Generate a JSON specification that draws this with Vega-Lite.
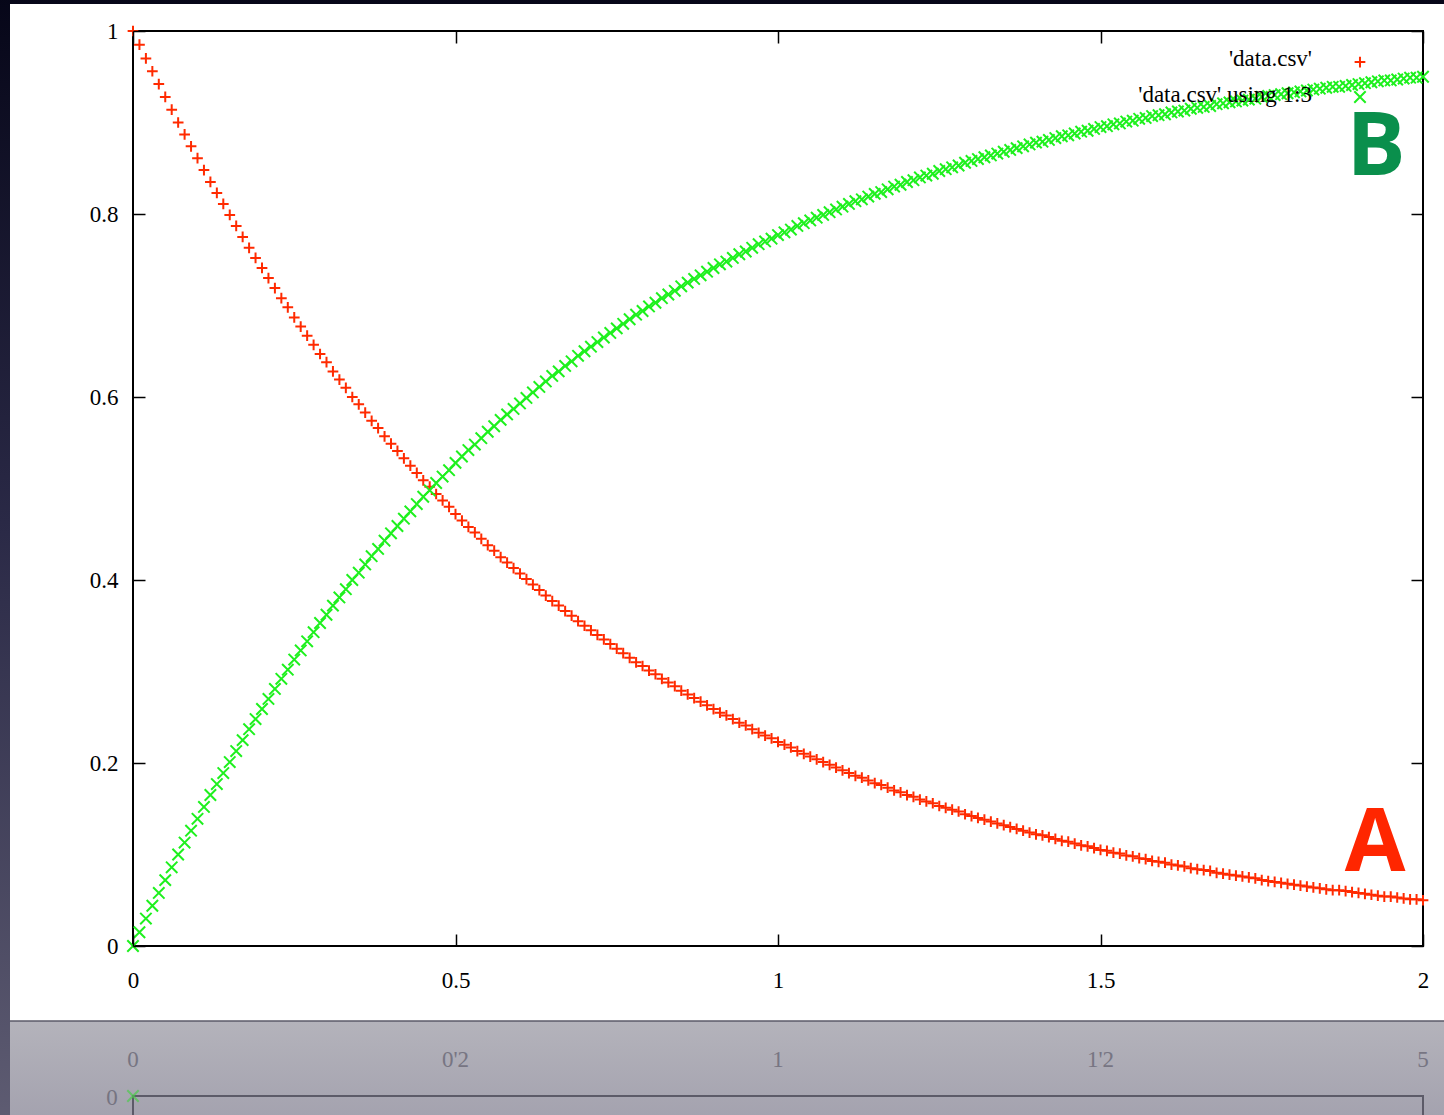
{
  "$schema": "https://vega.github.io/schema/vega-lite/v6.json",
  "width": 1290,
  "height": 915,
  "autosize": "none",
  "padding": {"left": 133, "top": 31, "right": 21, "bottom": 169},
  "background": "#0b0b1e",
  "config": {
    "view": {"stroke": null},
    "axis": {
      "domain": false,
      "grid": false,
      "ticks": true,
      "tickColor": "#000000",
      "tickWidth": 1.5,
      "tickSize": -12,
      "labelFont": "Liberation Serif",
      "labelFontSize": 23,
      "labelColor": "#000000",
      "labelFlush": false,
      "labelOverlap": false
    }
  },
  "datasets": {
    "series": [
      {"x":0,"a":1,"b":0},{"x":0.01,"a":0.985,"b":0.015},{"x":0.02,"a":0.97,"b":0.03},{"x":0.03,"a":0.956,"b":0.044},{"x":0.04,"a":0.942,"b":0.058},{"x":0.05,"a":0.928,"b":0.072},{"x":0.06,"a":0.914,"b":0.086},{"x":0.07,"a":0.9,"b":0.1},{"x":0.08,"a":0.887,"b":0.113},{"x":0.09,"a":0.874,"b":0.126},
      {"x":0.1,"a":0.861,"b":0.139},{"x":0.11,"a":0.848,"b":0.152},{"x":0.12,"a":0.835,"b":0.165},{"x":0.13,"a":0.823,"b":0.177},{"x":0.14,"a":0.811,"b":0.189},{"x":0.15,"a":0.799,"b":0.201},{"x":0.16,"a":0.787,"b":0.213},{"x":0.17,"a":0.775,"b":0.225},{"x":0.18,"a":0.763,"b":0.237},{"x":0.19,"a":0.752,"b":0.248},
      {"x":0.2,"a":0.741,"b":0.259},{"x":0.21,"a":0.73,"b":0.27},{"x":0.22,"a":0.719,"b":0.281},{"x":0.23,"a":0.708,"b":0.292},{"x":0.24,"a":0.698,"b":0.302},{"x":0.25,"a":0.687,"b":0.313},{"x":0.26,"a":0.677,"b":0.323},{"x":0.27,"a":0.667,"b":0.333},{"x":0.28,"a":0.657,"b":0.343},{"x":0.29,"a":0.647,"b":0.353},
      {"x":0.3,"a":0.638,"b":0.362},{"x":0.31,"a":0.628,"b":0.372},{"x":0.32,"a":0.619,"b":0.381},{"x":0.33,"a":0.61,"b":0.39},{"x":0.34,"a":0.6,"b":0.4},{"x":0.35,"a":0.592,"b":0.408},{"x":0.36,"a":0.583,"b":0.417},{"x":0.37,"a":0.574,"b":0.426},{"x":0.38,"a":0.566,"b":0.434},{"x":0.39,"a":0.557,"b":0.443},
      {"x":0.4,"a":0.549,"b":0.451},{"x":0.41,"a":0.541,"b":0.459},{"x":0.42,"a":0.533,"b":0.467},{"x":0.43,"a":0.525,"b":0.475},{"x":0.44,"a":0.517,"b":0.483},{"x":0.45,"a":0.509,"b":0.491},{"x":0.46,"a":0.502,"b":0.498},{"x":0.47,"a":0.494,"b":0.506},{"x":0.48,"a":0.487,"b":0.513},{"x":0.49,"a":0.48,"b":0.52},
      {"x":0.5,"a":0.472,"b":0.528},{"x":0.51,"a":0.465,"b":0.535},{"x":0.52,"a":0.458,"b":0.542},{"x":0.53,"a":0.452,"b":0.548},{"x":0.54,"a":0.445,"b":0.555},{"x":0.55,"a":0.438,"b":0.562},{"x":0.56,"a":0.432,"b":0.568},{"x":0.57,"a":0.425,"b":0.575},{"x":0.58,"a":0.419,"b":0.581},{"x":0.59,"a":0.413,"b":0.587},
      {"x":0.6,"a":0.407,"b":0.593},{"x":0.61,"a":0.401,"b":0.599},{"x":0.62,"a":0.395,"b":0.605},{"x":0.63,"a":0.389,"b":0.611},{"x":0.64,"a":0.383,"b":0.617},{"x":0.65,"a":0.377,"b":0.623},{"x":0.66,"a":0.372,"b":0.628},{"x":0.67,"a":0.366,"b":0.634},{"x":0.68,"a":0.361,"b":0.639},{"x":0.69,"a":0.355,"b":0.645},
      {"x":0.7,"a":0.35,"b":0.65},{"x":0.71,"a":0.345,"b":0.655},{"x":0.72,"a":0.34,"b":0.66},{"x":0.73,"a":0.335,"b":0.665},{"x":0.74,"a":0.33,"b":0.67},{"x":0.75,"a":0.325,"b":0.675},{"x":0.76,"a":0.32,"b":0.68},{"x":0.77,"a":0.315,"b":0.685},{"x":0.78,"a":0.31,"b":0.69},{"x":0.79,"a":0.306,"b":0.694},
      {"x":0.8,"a":0.301,"b":0.699},{"x":0.81,"a":0.297,"b":0.703},{"x":0.82,"a":0.292,"b":0.708},{"x":0.83,"a":0.288,"b":0.712},{"x":0.84,"a":0.284,"b":0.716},{"x":0.85,"a":0.279,"b":0.721},{"x":0.86,"a":0.275,"b":0.725},{"x":0.87,"a":0.271,"b":0.729},{"x":0.88,"a":0.267,"b":0.733},{"x":0.89,"a":0.263,"b":0.737},
      {"x":0.9,"a":0.259,"b":0.741},{"x":0.91,"a":0.255,"b":0.745},{"x":0.92,"a":0.252,"b":0.748},{"x":0.93,"a":0.248,"b":0.752},{"x":0.94,"a":0.244,"b":0.756},{"x":0.95,"a":0.241,"b":0.759},{"x":0.96,"a":0.237,"b":0.763},{"x":0.97,"a":0.233,"b":0.767},{"x":0.98,"a":0.23,"b":0.77},{"x":0.99,"a":0.227,"b":0.773},
      {"x":1,"a":0.223,"b":0.777},{"x":1.01,"a":0.22,"b":0.78},{"x":1.02,"a":0.217,"b":0.783},{"x":1.03,"a":0.213,"b":0.787},{"x":1.04,"a":0.21,"b":0.79},{"x":1.05,"a":0.207,"b":0.793},{"x":1.06,"a":0.204,"b":0.796},{"x":1.07,"a":0.201,"b":0.799},{"x":1.08,"a":0.198,"b":0.802},{"x":1.09,"a":0.195,"b":0.805},
      {"x":1.1,"a":0.192,"b":0.808},{"x":1.11,"a":0.189,"b":0.811},{"x":1.12,"a":0.186,"b":0.814},{"x":1.13,"a":0.184,"b":0.816},{"x":1.14,"a":0.181,"b":0.819},{"x":1.15,"a":0.178,"b":0.822},{"x":1.16,"a":0.176,"b":0.824},{"x":1.17,"a":0.173,"b":0.827},{"x":1.18,"a":0.17,"b":0.83},{"x":1.19,"a":0.168,"b":0.832},
      {"x":1.2,"a":0.165,"b":0.835},{"x":1.21,"a":0.163,"b":0.837},{"x":1.22,"a":0.16,"b":0.84},{"x":1.23,"a":0.158,"b":0.842},{"x":1.24,"a":0.156,"b":0.844},{"x":1.25,"a":0.153,"b":0.847},{"x":1.26,"a":0.151,"b":0.849},{"x":1.27,"a":0.149,"b":0.851},{"x":1.28,"a":0.147,"b":0.853},{"x":1.29,"a":0.144,"b":0.856},
      {"x":1.3,"a":0.142,"b":0.858},{"x":1.31,"a":0.14,"b":0.86},{"x":1.32,"a":0.138,"b":0.862},{"x":1.33,"a":0.136,"b":0.864},{"x":1.34,"a":0.134,"b":0.866},{"x":1.35,"a":0.132,"b":0.868},{"x":1.36,"a":0.13,"b":0.87},{"x":1.37,"a":0.128,"b":0.872},{"x":1.38,"a":0.126,"b":0.874},{"x":1.39,"a":0.124,"b":0.876},
      {"x":1.4,"a":0.122,"b":0.878},{"x":1.41,"a":0.121,"b":0.879},{"x":1.42,"a":0.119,"b":0.881},{"x":1.43,"a":0.117,"b":0.883},{"x":1.44,"a":0.115,"b":0.885},{"x":1.45,"a":0.114,"b":0.886},{"x":1.46,"a":0.112,"b":0.888},{"x":1.47,"a":0.11,"b":0.89},{"x":1.48,"a":0.109,"b":0.891},{"x":1.49,"a":0.107,"b":0.893},
      {"x":1.5,"a":0.105,"b":0.895},{"x":1.51,"a":0.104,"b":0.896},{"x":1.52,"a":0.102,"b":0.898},{"x":1.53,"a":0.101,"b":0.899},{"x":1.54,"a":0.099,"b":0.901},{"x":1.55,"a":0.098,"b":0.902},{"x":1.56,"a":0.096,"b":0.904},{"x":1.57,"a":0.095,"b":0.905},{"x":1.58,"a":0.093,"b":0.907},{"x":1.59,"a":0.092,"b":0.908},
      {"x":1.6,"a":0.091,"b":0.909},{"x":1.61,"a":0.089,"b":0.911},{"x":1.62,"a":0.088,"b":0.912},{"x":1.63,"a":0.087,"b":0.913},{"x":1.64,"a":0.085,"b":0.915},{"x":1.65,"a":0.084,"b":0.916},{"x":1.66,"a":0.083,"b":0.917},{"x":1.67,"a":0.082,"b":0.918},{"x":1.68,"a":0.08,"b":0.92},{"x":1.69,"a":0.079,"b":0.921},
      {"x":1.7,"a":0.078,"b":0.922},{"x":1.71,"a":0.077,"b":0.923},{"x":1.72,"a":0.076,"b":0.924},{"x":1.73,"a":0.075,"b":0.925},{"x":1.74,"a":0.074,"b":0.926},{"x":1.75,"a":0.072,"b":0.928},{"x":1.76,"a":0.071,"b":0.929},{"x":1.77,"a":0.07,"b":0.93},{"x":1.78,"a":0.069,"b":0.931},{"x":1.79,"a":0.068,"b":0.932},
      {"x":1.8,"a":0.067,"b":0.933},{"x":1.81,"a":0.066,"b":0.934},{"x":1.82,"a":0.065,"b":0.935},{"x":1.83,"a":0.064,"b":0.936},{"x":1.84,"a":0.063,"b":0.937},{"x":1.85,"a":0.062,"b":0.938},{"x":1.86,"a":0.061,"b":0.939},{"x":1.87,"a":0.061,"b":0.939},{"x":1.88,"a":0.06,"b":0.94},{"x":1.89,"a":0.059,"b":0.941},
      {"x":1.9,"a":0.058,"b":0.942},{"x":1.91,"a":0.057,"b":0.943},{"x":1.92,"a":0.056,"b":0.944},{"x":1.93,"a":0.055,"b":0.945},{"x":1.94,"a":0.054,"b":0.946},{"x":1.95,"a":0.054,"b":0.946},{"x":1.96,"a":0.053,"b":0.947},{"x":1.97,"a":0.052,"b":0.948},{"x":1.98,"a":0.051,"b":0.949},{"x":1.99,"a":0.051,"b":0.949},
      {"x":2,"a":0.05,"b":0.95}
    ],
    "mirror": [
      {"x":0,"t":"0"},{"x":0.5,"t":"0'2"},{"x":1,"t":"1"},{"x":1.5,"t":"1'2"},{"x":2,"t":"5"}
    ]
  },
  "resolve": {"axis": {"x": "independent", "y": "independent"}},
  "layer": [
    {
      "description": "dark backdrop behind the slide",
      "data": {"values": [{}]},
      "mark": {"type": "rect", "color": {"gradient": "linear", "x1": 0, "y1": 0, "x2": 0, "y2": 1,
        "stops": [{"offset": 0.1, "color": "#060618"}, {"offset": 0.46, "color": "#2a2946"}, {"offset": 0.87, "color": "#5e5c72"}]}},
      "encoding": {
        "x": {"datum": -0.4, "type": "quantitative", "scale": {"domain": [0, 2], "nice": false, "zero": false}, "axis": null},
        "x2": {"datum": 2.2},
        "y": {"datum": 1.2, "type": "quantitative", "scale": {"domain": [0, 1], "nice": false}, "axis": null},
        "y2": {"datum": -0.4}
      }
    },
    {
      "description": "white slide",
      "data": {"values": [{}]},
      "mark": {"type": "rect", "color": "#ffffff"},
      "encoding": {
        "x": {"datum": -0.1907, "type": "quantitative", "scale": {"domain": [0, 2], "nice": false, "zero": false}, "axis": null},
        "x2": {"datum": 2.2},
        "y": {"datum": 1.0295, "type": "quantitative", "scale": {"domain": [0, 1], "nice": false}, "axis": null},
        "y2": {"datum": -0.082}
      }
    },
    {
      "description": "reflection floor",
      "data": {"values": [{}]},
      "mark": {"type": "rect", "color": {"gradient": "linear", "x1": 0, "y1": 0, "x2": 0, "y2": 1,
        "stops": [{"offset": 0, "color": "#b4b3bb"}, {"offset": 0.33, "color": "#9f9dab"}, {"offset": 1, "color": "#8a8898"}]}},
      "encoding": {
        "x": {"datum": -0.1907, "type": "quantitative", "scale": {"domain": [0, 2], "nice": false, "zero": false}, "axis": null},
        "x2": {"datum": 2.2},
        "y": {"datum": -0.082, "type": "quantitative", "scale": {"domain": [0, 1], "nice": false}, "axis": null},
        "y2": {"datum": -0.5}
      }
    },
    {
      "data": {"values": [{}]},
      "mark": {"type": "rule", "color": "#5b5a68", "strokeWidth": 1.5},
      "encoding": {
        "x": {"datum": -0.1907, "type": "quantitative", "scale": {"domain": [0, 2], "nice": false, "zero": false}, "axis": null},
        "x2": {"datum": 2.2},
        "y": {"datum": -0.082, "type": "quantitative", "scale": {"domain": [0, 1], "nice": false}, "axis": null}
      }
    },
    {
      "description": "mirrored frame in the floor",
      "data": {"values": [{}]},
      "mark": {"type": "rect", "fillOpacity": 0, "stroke": "#4f4e5c", "strokeWidth": 2, "strokeOpacity": 0.85},
      "encoding": {
        "x": {"datum": 0, "type": "quantitative", "scale": {"domain": [0, 2], "nice": false, "zero": false}, "axis": null},
        "x2": {"datum": 2},
        "y": {"datum": -0.1639, "type": "quantitative", "scale": {"domain": [0, 1], "nice": false}, "axis": null},
        "y2": {"datum": -0.6}
      }
    },
    {
      "data": {"name": "mirror"},
      "mark": {"type": "text", "font": "Liberation Serif", "fontSize": 23, "color": "#6a6876", "opacity": 0.8, "baseline": "middle", "align": "center"},
      "encoding": {
        "x": {"field": "x", "type": "quantitative", "scale": {"domain": [0, 2], "nice": false, "zero": false}, "axis": null},
        "y": {"datum": -0.1246, "type": "quantitative", "scale": {"domain": [0, 1], "nice": false}, "axis": null},
        "text": {"field": "t"}
      }
    },
    {
      "data": {"values": [{}]},
      "mark": {"type": "text", "text": "0", "font": "Liberation Serif", "fontSize": 23, "color": "#6a6876", "opacity": 0.8, "baseline": "middle", "align": "center"},
      "encoding": {
        "x": {"datum": -0.0326, "type": "quantitative", "scale": {"domain": [0, 2], "nice": false, "zero": false}, "axis": null},
        "y": {"datum": -0.166, "type": "quantitative", "scale": {"domain": [0, 1], "nice": false}, "axis": null}
      }
    },
    {
      "data": {"values": [{}]},
      "mark": {"type": "point", "shape": "M-1,-1L1,1M-1,1L1,-1", "filled": false, "size": 130, "strokeWidth": 2, "color": "#4ccc4c", "opacity": 0.7},
      "encoding": {
        "x": {"datum": 0, "type": "quantitative", "scale": {"domain": [0, 2], "nice": false, "zero": false}, "axis": null},
        "y": {"datum": -0.1639, "type": "quantitative", "scale": {"domain": [0, 1], "nice": false}, "axis": null}
      }
    },
    {
      "description": "plot frame",
      "data": {"values": [{}]},
      "mark": {"type": "rect", "fillOpacity": 0, "stroke": "#000000", "strokeWidth": 2},
      "encoding": {
        "x": {"datum": 0, "type": "quantitative", "scale": {"domain": [0, 2], "nice": false, "zero": false}, "axis": null},
        "x2": {"datum": 2},
        "y": {"datum": 0, "type": "quantitative", "scale": {"domain": [0, 1], "nice": false}, "axis": null},
        "y2": {"datum": 1}
      }
    },
    {
      "description": "column 2 of data.csv, plus markers",
      "data": {"name": "series"},
      "mark": {"type": "point", "shape": "M-1,0L1,0M0,-1L0,1", "filled": false, "size": 115, "strokeWidth": 2, "color": "#ff2a00", "opacity": 1},
      "encoding": {
        "x": {"field": "x", "type": "quantitative", "scale": {"domain": [0, 2], "nice": false, "zero": false},
          "axis": {"orient": "bottom", "zindex": 2, "values": [0, 0.5, 1, 1.5, 2], "format": "~g", "labelPadding": 35, "labelBaseline": "top", "title": null}},
        "y": {"field": "a", "type": "quantitative", "scale": {"domain": [0, 1], "nice": false},
          "axis": {"orient": "left", "zindex": 2, "values": [0, 0.2, 0.4, 0.6, 0.8, 1], "format": "~g", "labelPadding": 27, "title": null}}
      }
    },
    {
      "description": "column 3 of data.csv, cross markers",
      "data": {"name": "series"},
      "mark": {"type": "point", "shape": "M-1,-1L1,1M-1,1L1,-1", "filled": false, "size": 130, "strokeWidth": 2, "color": "#1ef01e", "opacity": 1},
      "encoding": {
        "x": {"field": "x", "type": "quantitative", "scale": {"domain": [0, 2], "nice": false, "zero": false},
          "axis": {"orient": "top", "zindex": 2, "values": [0, 0.5, 1, 1.5, 2], "labels": false, "title": null}},
        "y": {"field": "b", "type": "quantitative", "scale": {"domain": [0, 1], "nice": false},
          "axis": {"orient": "right", "zindex": 2, "values": [0, 0.2, 0.4, 0.6, 0.8, 1], "labels": false, "title": null}}
      }
    },
    {
      "data": {"values": [{}]},
      "mark": {"type": "text", "text": "'data.csv'", "font": "Liberation Serif", "fontSize": 23, "color": "#000000", "align": "right", "baseline": "alphabetic"},
      "encoding": {
        "x": {"datum": 1.8279, "type": "quantitative", "scale": {"domain": [0, 2], "nice": false, "zero": false}, "axis": null},
        "y": {"datum": 0.9617, "type": "quantitative", "scale": {"domain": [0, 1], "nice": false}, "axis": null}
      }
    },
    {
      "data": {"values": [{}]},
      "mark": {"type": "text", "text": "'data.csv' using 1:3", "font": "Liberation Serif", "fontSize": 23, "color": "#000000", "align": "right", "baseline": "alphabetic"},
      "encoding": {
        "x": {"datum": 1.8279, "type": "quantitative", "scale": {"domain": [0, 2], "nice": false, "zero": false}, "axis": null},
        "y": {"datum": 0.9224, "type": "quantitative", "scale": {"domain": [0, 1], "nice": false}, "axis": null}
      }
    },
    {
      "data": {"values": [{}]},
      "mark": {"type": "point", "shape": "M-1,0L1,0M0,-1L0,1", "filled": false, "size": 115, "strokeWidth": 2, "color": "#ff2a00", "opacity": 1},
      "encoding": {
        "x": {"datum": 1.9023, "type": "quantitative", "scale": {"domain": [0, 2], "nice": false, "zero": false}, "axis": null},
        "y": {"datum": 0.9661, "type": "quantitative", "scale": {"domain": [0, 1], "nice": false}, "axis": null}
      }
    },
    {
      "data": {"values": [{}]},
      "mark": {"type": "point", "shape": "M-1,-1L1,1M-1,1L1,-1", "filled": false, "size": 130, "strokeWidth": 2, "color": "#1ef01e", "opacity": 1},
      "encoding": {
        "x": {"datum": 1.9023, "type": "quantitative", "scale": {"domain": [0, 2], "nice": false, "zero": false}, "axis": null},
        "y": {"datum": 0.9279, "type": "quantitative", "scale": {"domain": [0, 1], "nice": false}, "axis": null}
      }
    },
    {
      "data": {"values": [{}]},
      "mark": {"type": "text", "text": "A", "font": "Open Sans", "fontWeight": "bold", "fontSize": 88, "color": "#ff2600", "align": "center", "baseline": "alphabetic"},
      "encoding": {
        "x": {"datum": 1.9256, "type": "quantitative", "scale": {"domain": [0, 2], "nice": false, "zero": false}, "axis": null},
        "y": {"datum": 0.082, "type": "quantitative", "scale": {"domain": [0, 1], "nice": false}, "axis": null}
      }
    },
    {
      "data": {"values": [{}]},
      "mark": {"type": "text", "text": "B", "font": "Open Sans", "fontWeight": "bold", "fontSize": 88, "color": "#0a8f4c", "align": "center", "baseline": "alphabetic"},
      "encoding": {
        "x": {"datum": 1.9271, "type": "quantitative", "scale": {"domain": [0, 2], "nice": false, "zero": false}, "axis": null},
        "y": {"datum": 0.8426, "type": "quantitative", "scale": {"domain": [0, 1], "nice": false}, "axis": null}
      }
    }
  ]
}
